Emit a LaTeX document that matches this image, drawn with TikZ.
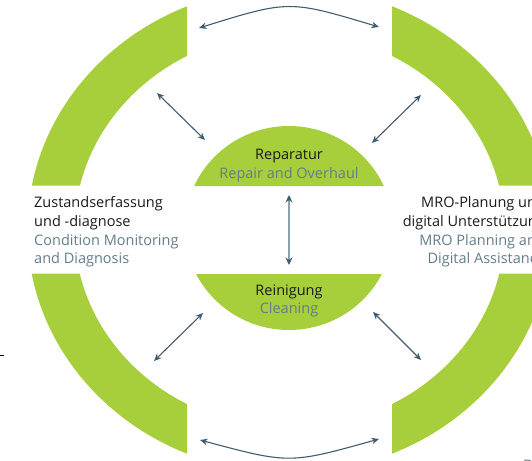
\documentclass[tikz,border=0pt]{standalone}
\usepackage{fontspec}
\setmainfont{Open Sans}
\usetikzlibrary{arrows.meta}
\definecolor{ringgreen}{HTML}{A7CE3B}
\definecolor{deText}{HTML}{1A1A1A}
\definecolor{enText}{HTML}{627D8C}
\definecolor{arrowcol}{HTML}{3F5D6F}
\definecolor{shaftcol}{HTML}{8DA2AE}
\tikzset{
  lbl/.style={inner sep=0pt, font=\fontsize{14.5}{17}\selectfont},
  de/.style={lbl, text=deText},
  en/.style={lbl, text=enText},
  tip/.style={Stealth[length=7.5pt,width=6.5pt]},
  link/.style={draw=arrowcol, line width=1.1pt, {Stealth[length=7.5pt,width=6.5pt]}-{Stealth[length=7.5pt,width=6.5pt]}},
  vlink/.style={draw=shaftcol, line width=1.8pt, {Stealth[length=7.5pt,width=7pt,color=arrowcol]}-{Stealth[length=7.5pt,width=7pt,color=arrowcol]}},
}
\begin{document}
\begin{tikzpicture}[x=1pt,y=-1pt]
\useasboundingbox (0,0) rectangle (532,460);
\clip (0,0) rectangle (532,460);
% outer ring segments
\begin{scope}
  \clip (-20,-20) rectangle (187,185.5) (392,-20) rectangle (600,185.5)
        (-20,273.5) rectangle (187,480) (392,273.5) rectangle (600,480);
  \fill[ringgreen, even odd rule] (289.5,230) ellipse [x radius=262, y radius=243]
                                 (289.5,230) ellipse [x radius=215, y radius=198];
\end{scope}
% inner lens
\begin{scope}
  \clip (150,100) rectangle (430,186) (150,274) rectangle (430,360);
  \fill[ringgreen] (289,228) ellipse [x radius=104, y radius=102];
\end{scope}
% labels
\node[de, anchor=base] (rep) at (289,159) {Reparatur};
\node[en, anchor=base] (repen) at (289,178) {Repair and Overhaul};
\node[de, anchor=base] (rei) at (289,295) {Reinigung};
\node[en, anchor=base] (reien) at (289,313) {Cleaning};
\node[de, anchor=base west] (cm1) at (34,207) {Zustandserfassung};
\node[de, anchor=base west] (cm2) at (34,226) {und -diagnose};
\node[en, anchor=base west] (cm3) at (34,245) {Condition Monitoring};
\node[en, anchor=base west] (cm4) at (34,263) {and Diagnosis};
\node[de, anchor=base east] (mro1) at (545,207) {MRO-Planung und};
\node[de, anchor=base east] (mro2) at (545,226) {digital Unterstützung};
\node[en, anchor=base east] (mro3) at (545,245) {MRO Planning and};
\node[en, anchor=base east] (mro4) at (545,263) {Digital Assistance};
\node[en, anchor=base west] (dpart) at (523,470) {D};
% arrow end points
\coordinate (t1) at (199,28);
\coordinate (t2) at (379,27);
\coordinate (b1) at (200,440);
\coordinate (b2) at (379,439);
\coordinate (ul1) at (157,93);
\coordinate (ul2) at (205,140);
\coordinate (ur1) at (421,95);
\coordinate (ur2) at (372,143);
\coordinate (ll1) at (203,313);
\coordinate (ll2) at (154,361);
\coordinate (lr1) at (373,312);
\coordinate (lr2) at (421,360);
\coordinate (v1) at (289,195);
\coordinate (v2) at (289,265);
\coordinate (dashL) at (0,355);
\coordinate (dashR) at (4,355);
% connectors
\draw[link] (t1) .. controls (289,0) .. (t2);
\draw[link] (b1) .. controls (289.5,464) .. (b2);
\draw[link] (ul1) -- (ul2);
\draw[link] (ur1) -- (ur2);
\draw[link] (ll1) -- (ll2);
\draw[link] (lr1) -- (lr2);
\draw[vlink] (v1) -- (v2);
\draw[line width=1pt, black] (dashL) -- (dashR);
\end{tikzpicture}
\end{document}
